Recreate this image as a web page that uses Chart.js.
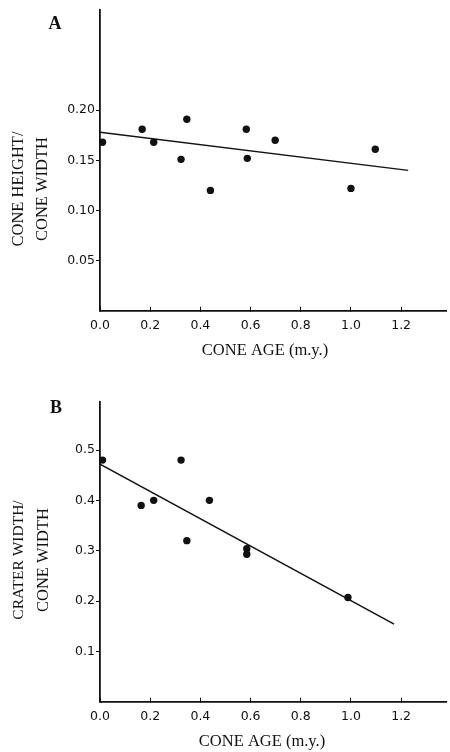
<!DOCTYPE html>
<html><head><meta charset="utf-8">
<script src="https://cdn.jsdelivr.net/npm/chart.js@4.4.1/dist/chart.umd.min.js"></script>
<style>
html,body{margin:0;padding:0;background:#fff;width:450px;height:752px;overflow:hidden}
#wa{position:absolute;left:0;top:0;width:450px;height:370px}
#wb{position:absolute;left:0;top:370px;width:450px;height:382px}
</style></head><body>
<div id="wa"><canvas id="ca"></canvas></div>
<div id="wb"><canvas id="cb"></canvas></div>
<script>
// Panel A: cone height / cone width vs cone age
const ageA   = [0.01, 0.168, 0.214, 0.323, 0.346, 0.44, 0.583, 0.587, 0.698, 1.0, 1.097];
const ratioA = [0.168, 0.181, 0.168, 0.151, 0.191, 0.120, 0.181, 0.152, 0.170, 0.122, 0.161];
const fitAgeA   = [0, 1.228];
const fitRatioA = [0.178, 0.140];
// Panel B: crater width / cone width vs cone age
const ageB   = [0.01, 0.164, 0.214, 0.323, 0.346, 0.436, 0.585, 0.585, 0.988];
const ratioB = [0.480, 0.390, 0.400, 0.480, 0.320, 0.400, 0.304, 0.293, 0.207];
const fitAgeB   = [0, 1.172];
const fitRatioB = [0.472, 0.154];
// ticks
const xTicks  = [0, 0.2, 0.4, 0.6, 0.8, 1.0, 1.2];
const yTicksA = [0.05, 0.10, 0.15, 0.20];
const yTicksB = [0.1, 0.2, 0.3, 0.4, 0.5];
// texts
const letterA = 'A', letterB = 'B';
const xTitle = 'CONE AGE (m.y.)';
const yTitleA = ['CONE HEIGHT/', 'CONE WIDTH'];
const yTitleB = ['CRATER WIDTH/', 'CONE WIDTH'];

const SERIF = '"Liberation Serif", "DejaVu Serif", serif';
const SANS = '"DejaVu Sans", sans-serif';

function textPlugin(t) {
  return {
    id: 'texts',
    afterDraw(chart) {
      const ctx = chart.ctx;
      ctx.save();
      ctx.fillStyle = '#111';
      ctx.font = 'bold 18px ' + SERIF;
      ctx.textAlign = 'center';
      ctx.textBaseline = 'alphabetic';
      ctx.fillText(t.letter, t.letterX, t.letterY);
      ctx.font = '16.5px ' + SERIF;
      ctx.fillText(t.xTitle, t.xTitleX, t.xTitleY);
      t.yTitle.forEach((s, i) => {
        ctx.save();
        ctx.font = t.yTitleSizes[i] + 'px ' + SERIF;
        ctx.translate(t.yTitleXs[i], t.yTitleY);
        ctx.rotate(-Math.PI / 2);
        ctx.fillText(s, 0, 0);
        ctx.restore();
      });
      ctx.restore();
    }
  };
}

function makeChart(id, o) {
  const pts = o.ages.map((a, i) => ({x: a, y: o.ratios[i]}));
  const fit = o.fitAges.map((a, i) => ({x: a, y: o.fitRatios[i]}));
  return new Chart(document.getElementById(id), {
    type: 'scatter',
    data: {
      datasets: [
        {data: pts, backgroundColor: '#111', borderColor: '#111', pointRadius: 3.7, pointBorderWidth: 0, pointHoverRadius: 3.7},
        {type: 'line', data: fit, borderColor: '#111', borderWidth: 1.5, pointRadius: 0, fill: false, tension: 0}
      ]
    },
    options: {
      responsive: true, maintainAspectRatio: false, animation: false,
      events: [],
      layout: {padding: {left: 0, right: 1.5, top: o.top, bottom: 0}},
      plugins: {legend: {display: false}, tooltip: {enabled: false}, title: {display: false}},
      scales: {
        x: {
          type: 'linear', min: 0, max: 1.38,
          afterBuildTicks: s => { s.ticks = xTicks.map(v => ({value: v})); },
          afterFit: s => { s.height = o.xAxisH; },
          grid: {drawOnChartArea: false, drawTicks: true, tickLength: -4, color: '#111', lineWidth: 1},
          border: {display: true, color: '#111', width: 1.8},
          ticks: {autoSkip: false, maxRotation: 0, padding: 12, color: '#111', font: {family: SANS, size: 12.5},
                  callback: v => v.toFixed(1)}
        },
        y: {
          type: 'linear', min: 0, max: o.yMax,
          afterBuildTicks: s => { s.ticks = o.yTicks.map(v => ({value: v})); },
          afterFit: s => { s.width = 100; },
          grid: {drawOnChartArea: false, drawTicks: true, tickLength: 4, color: '#111', lineWidth: 1},
          border: {display: true, color: '#111', width: 1.8},
          ticks: {autoSkip: false, padding: 1, color: '#111', font: {family: SANS, size: 12.5},
                  callback: v => v.toFixed(o.dec)}
        }
      }
    },
    plugins: [textPlugin(o.texts)]
  });
}

makeChart('ca', {
  ages: ageA, ratios: ratioA, fitAges: fitAgeA, fitRatios: fitRatioA,
  yMax: 0.30, yTicks: yTicksA, dec: 2, top: 10, xAxisH: 59.3,
  texts: {letter: letterA, letterX: 55, letterY: 29, xTitle: xTitle, xTitleX: 265, xTitleY: 355,
          yTitle: yTitleA, yTitleXs: [22.5, 46.5], yTitleSizes: [16.5, 16.5], yTitleY: 189}
});
makeChart('cb', {
  ages: ageB, ratios: ratioB, fitAges: fitAgeB, fitRatios: fitRatioB,
  yMax: 0.596, yTicks: yTicksB, dec: 1, top: 31.7, xAxisH: 50.3,
  texts: {letter: letterB, letterX: 56, letterY: 43, xTitle: xTitle, xTitleX: 262, xTitleY: 376,
          yTitle: yTitleB, yTitleXs: [23, 48], yTitleSizes: [15.5, 16.5], yTitleY: 190}
});
</script>
</body></html>
